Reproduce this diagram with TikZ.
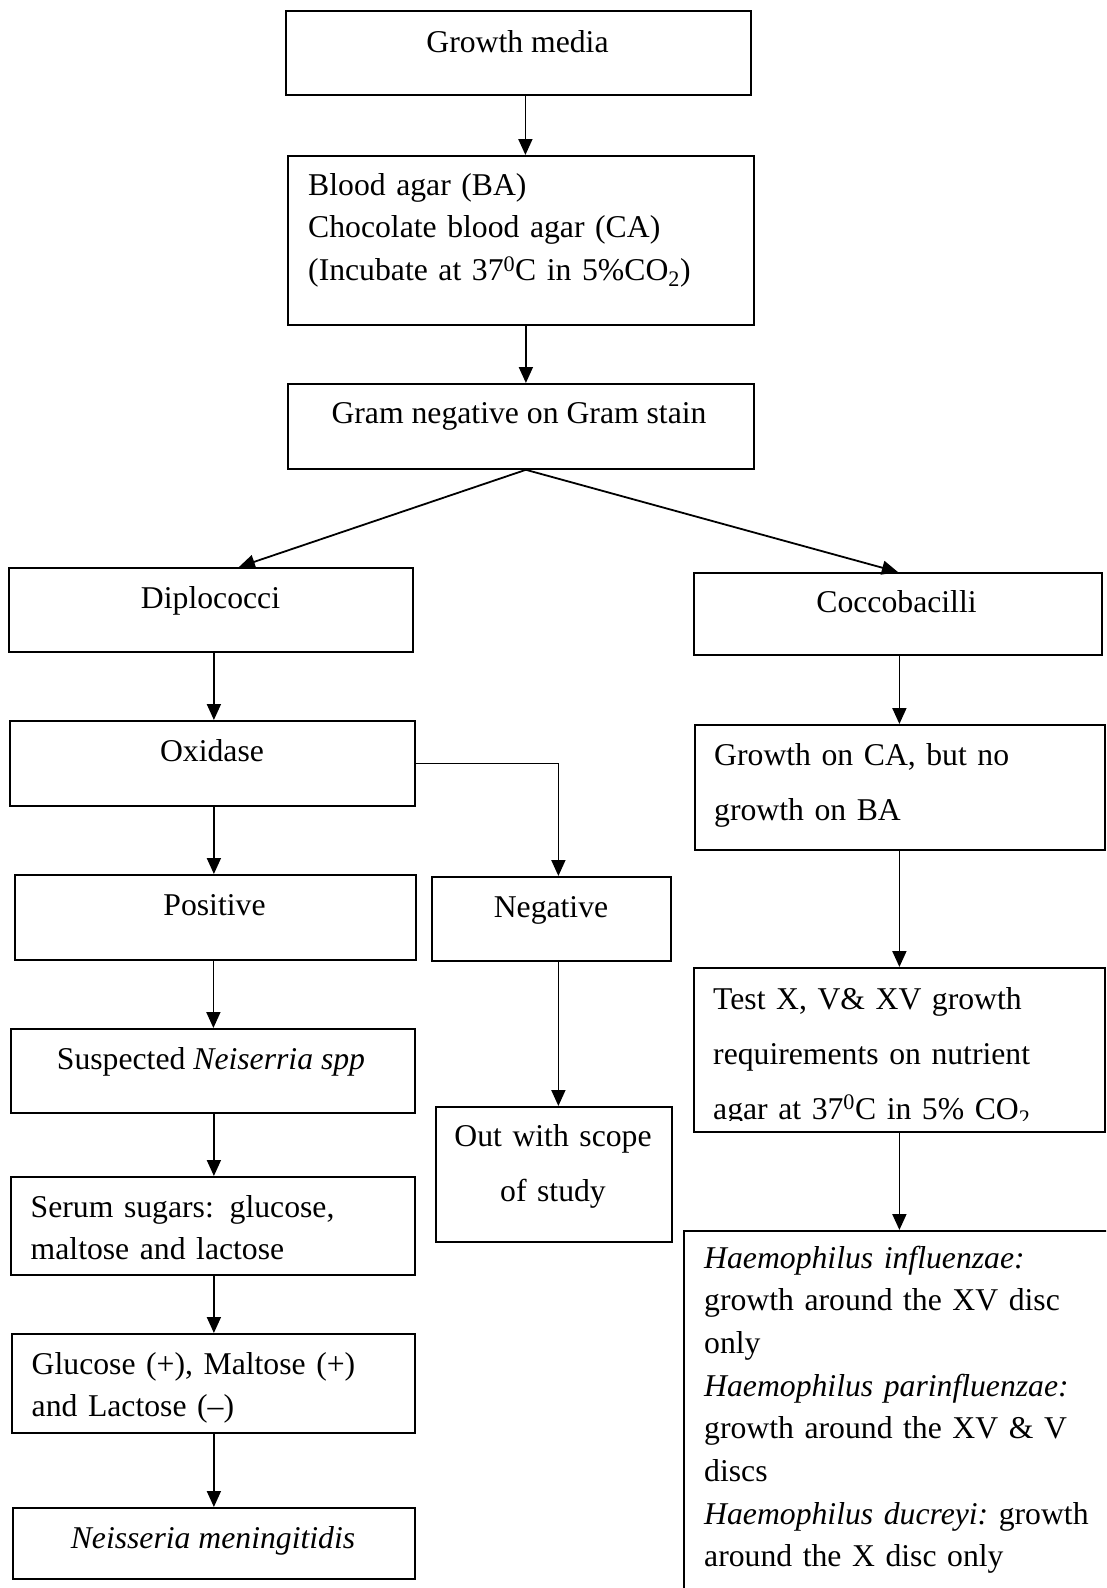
\documentclass[tikz,border=0pt]{standalone}
\usepackage{fontspec}
\setmainfont{Liberation Serif}
\usetikzlibrary{arrows.meta}

\begin{document}
\frenchspacing
\begin{tikzpicture}[x=1pt,y=-1pt,
  box/.style={draw, line width=1.8pt, rectangle, inner sep=0pt, anchor=north west},
  arr/.style={line width=1.8pt, -{Triangle[length=16pt,width=14pt]}},
  lbl/.style={inner sep=0pt, anchor=base, font=\fontsize{31.7}{42.7}\selectfont},
  para/.style={inner sep=0pt, anchor=base west, text width=#1, align=left,
               font=\fontsize{31.7}{42.7}\selectfont},
  loose/.style={font=\fontsize{31.7}{55}\selectfont}
]
\useasboundingbox (0,0) rectangle (1106,1588);
\clip (0,0) rectangle (1106,1588);

% ---- boxes ----
\node[box, minimum width=465pt, minimum height=84pt]  (media) at (285,10) {};
\node[box, minimum width=466pt, minimum height=169pt] (blood) at (287,155) {};
\node[box, minimum width=466pt, minimum height=85pt]  (gram)  at (287,383) {};
\node[box, minimum width=404pt, minimum height=84pt]  (dip)   at (8,567) {};
\node[box, minimum width=408pt, minimum height=82pt]  (cocco) at (693,572) {};
\node[box, minimum width=405pt, minimum height=85pt]  (oxi)   at (9,720) {};
\node[box, minimum width=401pt, minimum height=85pt]  (pos)   at (14,874) {};
\node[box, minimum width=239pt, minimum height=84pt]  (neg)   at (431,876) {};
\node[box, minimum width=404pt, minimum height=84pt]  (susp)  at (10,1028) {};
\node[box, minimum width=236pt, minimum height=135pt] (out)   at (435,1106) {};
\node[box, minimum width=404pt, minimum height=98pt]  (serum) at (10,1176) {};
\node[box, minimum width=403pt, minimum height=99pt]  (gluc)  at (11,1333) {};
\node[box, minimum width=402pt, minimum height=71pt]  (nmen)  at (12,1507) {};
\node[box, minimum width=410pt, minimum height=125pt] (gca)   at (694,724) {};
\node[box, minimum width=411pt, minimum height=164pt] (test)  at (693,967) {};
\node[box, minimum width=460pt, minimum height=420pt] (haem)  at (683,1230) {};

% ---- texts ----
\node[lbl] (mediat) at (517.5,52) {Growth media};
\node[para=440pt] (bloodt) at (308,195)
  {Blood agar (BA)\\ Chocolate blood agar (CA)\\ (Incubate at 37\textsuperscript{0}C in 5\%CO\textsubscript{2})};
\node[lbl] (gramt) at (519,423) {Gram negative on Gram stain};
\node[lbl] (dipt) at (210.5,608) {Diplococci};
\node[lbl] (coccot) at (896.5,612) {Coccobacilli};
\node[lbl] (oxit) at (212,761) {Oxidase};
\node[lbl] (post) at (214.5,915) {Positive};
\node[lbl] (negt) at (551,917) {Negative};
\node[lbl] (suspt) at (211,1069) {Suspected \textit{Neiserria spp}};
\node[para=220pt, loose, align=center, anchor=base] (outt) at (553,1146)
  {Out with scope\\ of study};
\node[para=380pt] (serumt) at (30.5,1217)
  {Serum sugars:\, glucose,\\ maltose and lactose};
\node[para=380pt] (gluct) at (31.5,1374)
  {Glucose (+), Maltose (+)\\ and Lactose (--)};
\node[lbl] (nment) at (213,1548) {\textit{Neisseria meningitidis}};
\node[para=385pt, loose] (gcat) at (714,765)
  {Growth on CA, but no\\ growth on BA};
\begin{scope}
  \clip (693,967) rectangle (1104,1120.5);
  \node[para=390pt, loose] (testt) at (713,1009)
    {Test X, V\& XV growth\\ requirements on nutrient\\ agar at 37\textsuperscript{0}C in 5\% CO\textsubscript{2}};
\end{scope}
\node[para=400pt] (haemt) at (704,1268)
  {\textit{Haemophilus influenzae:}\\ growth around the XV disc\\ only\\
   \textit{Haemophilus parinfluenzae:}\\ growth around the XV \& V\\ discs\\
   \textit{Haemophilus ducreyi:} growth\\ around the X disc only};

% ---- connectors ----
\draw[arr] ([xshift=7pt]media.south) -- ([xshift=7pt]media.south |- blood.north);
\draw[arr] ([xshift=5pt]blood.south) -- ([xshift=5pt]blood.south |- gram.north);
\draw[arr] ([xshift=5pt]gram.south) -- ([xshift=28pt]dip.north);
\draw[arr] ([xshift=5pt]gram.south) -- (cocco.north);
\draw[arr] ([xshift=3pt]dip.south) -- ([xshift=3pt]dip.south |- oxi.north);
\draw[arr] ([xshift=1.5pt]oxi.south) -- ([xshift=1.5pt]oxi.south |- pos.north);
\draw[arr] (oxi.east) -| ([xshift=7pt]neg.north);
\draw[arr] ([xshift=-2pt]pos.south) -- ([xshift=-2pt]pos.south |- susp.north);
\draw[arr] ([xshift=7pt]neg.south) -- ([xshift=7pt]neg.south |- out.north);
\draw[arr] ([xshift=1pt]susp.south) -- ([xshift=1pt]susp.south |- serum.north);
\draw[arr] ([xshift=1pt]serum.south) -- ([xshift=1pt]serum.south |- gluc.north);
\draw[arr] ([xshift=0.5pt]gluc.south) -- ([xshift=0.5pt]gluc.south |- nmen.north);
\draw[arr] ([xshift=1.5pt]cocco.south) -- ([xshift=1.5pt]cocco.south |- gca.north);
\draw[arr] ([xshift=-0.5pt]gca.south) -- ([xshift=-0.5pt]gca.south |- test.north);
\draw[arr] (test.south) -- (test.south |- haem.north);
\end{tikzpicture}
\end{document}
